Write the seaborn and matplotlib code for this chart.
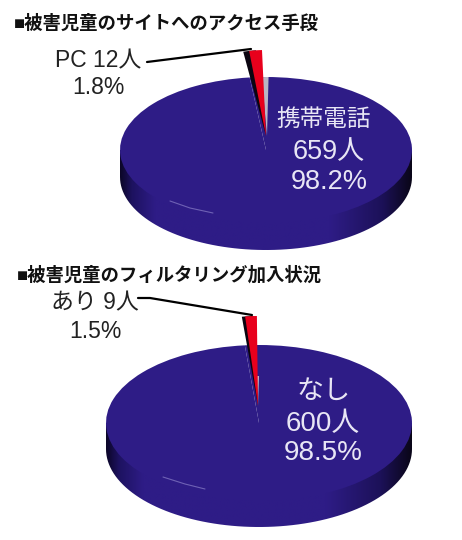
""" Two fake-3D pies: access method and filtering status of child victims """

import numpy as np
import matplotlib
matplotlib.use('Agg')
import matplotlib.pyplot as plt
from matplotlib.colors import LinearSegmentedColormap
from matplotlib.path import Path
from matplotlib.patches import PathPatch
import seaborn as sns

W, H = 462, 540

access_labels = ['PC', '携帯電話']
access_counts = [12, 659]
access_pcts = ['1.8%', '98.2%']

filter_labels = ['あり', 'なし']
filter_counts = [9, 600]
filter_pcts = ['1.5%', '98.5%']

title_access = '■被害児童のサイトへのアクセス手段'
title_filter = '■被害児童のフィルタリング加入状況'

sns.set_theme(style='white')
plt.rcParams['font.family'] = ['Liberation Sans', 'Noto Sans CJK JP', 'DejaVu Sans']

navy = '#2e1c86'
red = '#e8001c'
side_cmap = LinearSegmentedColormap.from_list(
    'side', [(0, '#0c0628'), (0.04, '#1d1260'), (0.12, navy), (0.72, navy),
             (0.9, '#1c1158'), (1, '#0a0618')])

fig = plt.figure(figsize=(W / 100, H / 100), dpi=100, facecolor='white')

# overlay in pixel coordinates for the side, leader lines and texts
px = fig.add_axes([0, 0, 1, 1], zorder=1)
px.set_xlim(0, W)
px.set_ylim(H, 0)
px.axis('off')

top = fig.add_axes([0, 0, 1, 1], zorder=5)
top.set_xlim(0, W)
top.set_ylim(H, 0)
top.axis('off')


def pie_axes(cx, cy, rx, ry, zorder):
    """Axes whose data range -1..1 fills the given pixel ellipse box"""
    ax = fig.add_axes([(cx - rx) / W, 1 - (cy + ry) / H, 2 * rx / W, 2 * ry / H], zorder=zorder)
    return ax


def draw_slice(values, cx, cy, rx, ry, start, color, zorder):
    ax = pie_axes(cx, cy, rx, ry, zorder)
    ax.pie(values, colors=[color, 'none'], startangle=start, radius=1,
           wedgeprops={'linewidth': 0})
    ax.set_aspect('auto')
    ax.set_xlim(-1, 1)
    ax.set_ylim(-1, 1)


def draw_pie(values, cx, cy, rx, ry, depth):
    # side of the disc: horizontal gradient clipped to the lower outline
    t = np.linspace(0, np.pi, 80)
    xs = cx + rx * np.cos(t)
    ys = cy + depth + ry * np.sin(t)
    outline = np.column_stack([np.r_[xs, cx - rx, cx + rx], np.r_[ys, cy, cy]])
    clip = PathPatch(Path(np.vstack([outline, outline[0]])), fc='none', ec='none', transform=px.transData)
    px.add_patch(clip)
    grad = np.linspace(0, 1, 256).reshape(1, -1)
    img = px.imshow(grad, cmap=side_cmap, aspect='auto',
                    extent=[cx - rx, cx + rx, cy + ry + depth, cy])
    img.set_clip_path(clip)
    px.set_xlim(0, W)
    px.set_ylim(H, 0)

    # top face
    ax = pie_axes(cx, cy, rx, ry, 2)
    ax.pie(values, colors=[navy, navy], startangle=90, wedgeprops={'linewidth': 0})
    ax.set_aspect('auto')
    ax.set_xlim(-1, 1)
    ax.set_ylim(-1, 1)


# upper pie
draw_pie(access_counts, 266, 150, 146, 73, 27)
draw_slice(access_counts, 267, 136, 60, 59, 88.5, '#b9b6c4', 3)
draw_slice(access_counts, 266, 136, 115, 86, 95, '#0a0510', 3)
draw_slice(access_counts, 266, 136, 115, 86, 92, red, 4)
top.plot([170, 190, 213], [201, 208, 213], color='#8a7fc8', lw=0.8, alpha=0.7)
top.plot([147, 155, 251], [62, 61, 49], color='black', lw=1.6)

top.text(14, 24, title_access, fontsize=13.2, fontweight='bold', color='#111111',
         ha='left', va='center')
top.text(98, 61, f'{access_labels[0]} {access_counts[0]}人', fontsize=16.5, color='#222222',
         ha='center', va='center')
top.text(98, 88, access_pcts[0], fontsize=16.5, color='#222222', ha='center', va='center')
top.text(324, 120, access_labels[1], fontsize=17, color='#e8e6f5', ha='center', va='center')
top.text(329, 152, f'{access_counts[1]}人', fontsize=19.5, color='#e8e6f5', ha='center', va='center')
top.text(329, 182, access_pcts[1], fontsize=19.5, color='#e8e6f5', ha='center', va='center')

# lower pie
draw_pie(filter_counts, 259, 423, 153, 78, 26)
draw_slice(filter_counts, 258, 406, 30, 30, 88, '#b9b6c4', 3)
draw_slice(filter_counts, 258, 406, 127, 90, 92, '#0a0510', 3)
draw_slice(filter_counts, 258, 406, 127, 90, 90.5, red, 4)
top.plot([163, 185, 205], [477, 484, 489], color='#8a7fc8', lw=0.8, alpha=0.7)
top.plot([138, 150, 252], [298, 298, 315], color='black', lw=1.6)

top.text(17, 275, title_filter, fontsize=13.2, fontweight='bold', color='#111111',
         ha='left', va='center')
top.text(95, 303, f'{filter_labels[0]} {filter_counts[0]}人', fontsize=16.5, color='#222222',
         ha='center', va='center')
top.text(95, 331, filter_pcts[0], fontsize=16.5, color='#222222', ha='center', va='center')
top.text(324, 392, filter_labels[1], fontsize=19.5, color='#e8e6f5', ha='center', va='center')
top.text(323, 424, f'{filter_counts[1]}人', fontsize=20, color='#e8e6f5', ha='center', va='center')
top.text(323, 453, filter_pcts[1], fontsize=20, color='#e8e6f5', ha='center', va='center')

fig.savefig('out.png', dpi=100)
